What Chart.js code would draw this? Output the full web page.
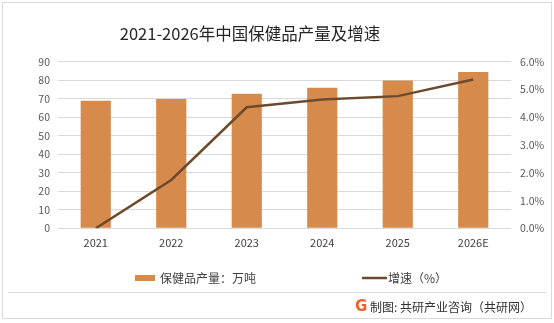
<!DOCTYPE html>
<html>
<head>
<meta charset="utf-8">
<script src="https://cdn.jsdelivr.net/npm/chart.js@4/dist/chart.umd.min.js"></script>
<style>
  html, body { margin: 0; padding: 0; background: #ffffff; }
  #wrap { width: 554px; height: 323px; position: relative; }
</style>
</head>
<body>
<div id="wrap"><canvas id="c" width="554" height="323"></canvas></div>
<script>
// Health-product output (10k tonnes) and its year-on-year growth (%)
const years = ['2021', '2022', '2023', '2024', '2025', '2026E'];
const output = [68.9, 69.8, 72.7, 75.9, 79.9, 84.4];
const growth = [0.0, 1.74, 4.36, 4.64, 4.76, 5.36];
const leftTicks = { min: 0, max: 90, step: 10 };
const rightTicks = { min: 0, max: 6, step: 1 };

const titleText = '2021-2026年中国保健品产量及增速';
const barLabel = '保健品产量：万吨';
const lineLabel = '增速（%）';
const sourceText = '制图: 共研产业咨询（共研网）';

const CJK = '"Noto Sans CJK SC", "Noto Sans", sans-serif';
const BAR_COLOR = '#D68B4C';
const LINE_COLOR = '#6E4A2D';
const GRID = '#d9d9d9';

// Frame, title, legend and source line around the plot
const decor = {
  id: 'decor',
  beforeDraw(chart) {
    const ctx = chart.ctx;
    ctx.save();
    ctx.fillStyle = '#ffffff';
    ctx.fillRect(0, 0, chart.width, chart.height);
    ctx.restore();
  },
  afterDraw(chart) {
    const ctx = chart.ctx;
    ctx.save();
    // outer frame
    ctx.strokeStyle = '#d9d9d9';
    ctx.lineWidth = 1;
    ctx.strokeRect(2.5, 2.5, 549, 316);

    // title
    ctx.fillStyle = '#262626';
    ctx.font = '16.5px ' + CJK;
    ctx.textAlign = 'center';
    ctx.textBaseline = 'middle';
    ctx.fillText(titleText, 250, 34);

    // legend
    const ds = chart.data.datasets;
    ctx.font = '12px ' + CJK;
    ctx.textAlign = 'left';
    ctx.fillStyle = ds[0].backgroundColor;
    ctx.fillRect(135, 275, 20, 6);
    ctx.fillStyle = '#404040';
    ctx.fillText(ds[0].label, 160, 278);
    ctx.strokeStyle = ds[1].borderColor;
    ctx.lineWidth = 2.5;
    ctx.beginPath();
    ctx.moveTo(362, 278);
    ctx.lineTo(387, 278);
    ctx.stroke();
    ctx.fillText(ds[1].label, 388, 278);

    // separator
    ctx.strokeStyle = '#d9d9d9';
    ctx.lineWidth = 1;
    ctx.beginPath();
    ctx.moveTo(8, 292.5);
    ctx.lineTo(546, 292.5);
    ctx.stroke();

    // source mark and text
    ctx.fillStyle = '#F0612A';
    ctx.font = 'bold 15px "DejaVu Sans", sans-serif';
    ctx.textAlign = 'left';
    ctx.fillText('G', 355, 307.5);
    ctx.fillStyle = '#333333';
    ctx.font = '12px ' + CJK;
    ctx.fillText(sourceText, 370, 307.5);
    ctx.restore();
  }
};

new Chart(document.getElementById('c'), {
  type: 'bar',
  data: {
    labels: years,
    datasets: [
      {
        type: 'bar',
        label: barLabel,
        data: output,
        backgroundColor: BAR_COLOR,
        yAxisID: 'y',
        barPercentage: 0.4,
        categoryPercentage: 1.0,
        order: 1
      },
      {
        type: 'line',
        label: lineLabel,
        data: growth,
        borderColor: LINE_COLOR,
        backgroundColor: LINE_COLOR,
        borderWidth: 2.5,
        pointRadius: 0,
        tension: 0,
        fill: false,
        yAxisID: 'y1',
        order: 0
      }
    ]
  },
  options: {
    responsive: false,
    animation: false,
    devicePixelRatio: 1,
    layout: { padding: { top: 61.7, bottom: 64.7, left: 0, right: 0 } },
    plugins: {
      legend: { display: false },
      title: { display: false },
      tooltip: { enabled: false }
    },
    scales: {
      x: {
        grid: { display: false, drawTicks: false },
        border: { display: false },
        ticks: {
          color: '#404040',
          font: { family: CJK, size: 11 },
          padding: 8,
          maxRotation: 0
        },
        afterFit(s) { s.height = 30; }
      },
      y: {
        position: 'left',
        min: leftTicks.min,
        max: leftTicks.max,
        ticks: {
          stepSize: leftTicks.step,
          color: '#595959',
          font: { family: CJK, size: 10.5 },
          padding: 8
        },
        grid: { color: GRID, drawTicks: false, lineWidth: 1 },
        border: { display: false },
        afterFit(s) { s.width = 58; }
      },
      y1: {
        position: 'right',
        min: rightTicks.min,
        max: rightTicks.max,
        ticks: {
          stepSize: rightTicks.step,
          color: '#595959',
          font: { family: CJK, size: 10.5 },
          padding: 9,
          callback: v => v.toFixed(1) + '%'
        },
        grid: { display: false, drawTicks: false },
        border: { display: false },
        afterFit(s) { s.width = 43; }
      }
    }
  },
  plugins: [decor]
});
</script>
</body>
</html>
